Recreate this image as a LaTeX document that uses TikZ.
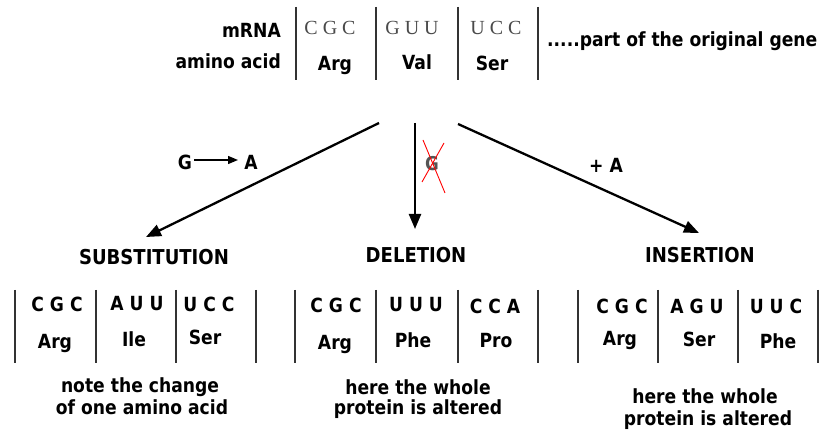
\documentclass[tikz,border=0pt]{standalone}
\usepackage{fontspec}
\setmainfont{DejaVu Sans}[FakeStretch=0.88]
\newfontfamily\serifcodon{Liberation Serif}
\usetikzlibrary{arrows.meta}
\definecolor{codongray}{HTML}{4a4a4a}
\definecolor{delgray}{HTML}{555555}
\tikzset{
  lbl/.style={font=\fontsize{19.5}{22}\selectfont\bfseries, inner sep=0pt, anchor=base, text=black},
  rlbl/.style={lbl, anchor=base east},
  head/.style={font=\fontsize{20.5}{24}\selectfont\bfseries, inner sep=0pt, anchor=base},
  topcodon/.style={font=\fontsize{20}{22}\selectfont\serifcodon, inner sep=0pt, anchor=base, text=codongray},
  bar/.style={line width=1.5pt, draw=black!80},
  bigarrow/.style={line width=2.3pt, -{Triangle[length=15pt,width=12pt]}},
}
\newcommand{\cs}{\hspace{5pt}}
\begin{document}
\begin{tikzpicture}[x=1pt,y=-1pt]
\useasboundingbox[fill=white] (0,0) rectangle (822,435);

% ---- top table ----
\node[rlbl] (mrna) at (281,38) {mRNA};
\node[rlbl] (aa) at (281,69) {amino acid};
\foreach \x in {296,376,458,538} \draw[bar] (\x,7) -- (\x,80);
\node[topcodon] (t1) at (330,35) {C\cs G\cs C};
\node[topcodon] (t2) at (412,35) {G\cs U\cs U};
\node[topcodon] (t3) at (496,35) {U\cs C\cs C};
\node[lbl] (ta1) at (335,71) {Arg};
\node[lbl] (ta2) at (417,70) {Val};
\node[lbl] (ta3) at (492,71) {Ser};
\node[lbl, anchor=base west] (orig) at (547,47) {.....part of the original gene};

% ---- arrows ----
\coordinate (s1) at (379,123);
\coordinate (e1) at (146,237);
\coordinate (s2) at (415,123);
\coordinate (e2) at (415,229);
\coordinate (s3) at (458,124);
\coordinate (e3) at (699,233);
\draw[bigarrow] (s1) -- (e1);
\draw[bigarrow] (s2) -- (e2);
\draw[bigarrow] (s3) -- (e3);

% labels on arrows
\node[lbl] (gfrom) at (185,170) {G};
\node[lbl] (gto) at (251,170) {A};
\coordinate (ga1) at (194,160);
\coordinate (ga2) at (238,160);
\draw[line width=1.3pt, -{Triangle[length=10pt,width=8pt]}] (ga1) -- (ga2);
\node[lbl] (plusA) at (606,173) {+ A};
\node[font=\fontsize{19}{20}\selectfont\bfseries, text=delgray, inner sep=0pt] (delg) at (432,164) {G};
\coordinate (x1a) at (423,140);
\coordinate (x1b) at (445,193);
\coordinate (x2a) at (444,143);
\coordinate (x2b) at (422,182);
\draw[red, line width=0.9pt] (x1a) -- (x1b);
\draw[red, line width=0.9pt] (x2a) -- (x2b);

% ---- headings ----
\node[head] (sub) at (154,265) {SUBSTITUTION};
\node[head] (del) at (416,263) {DELETION};
\node[head] (ins) at (700,263) {INSERTION};

% ---- substitution table ----
\foreach \x in {15,96,176,256} \draw[bar] (\x,290) -- (\x,363);
\node[lbl] (sc1) at (57,312) {C G C};
\node[lbl] (sc2) at (137,311) {A U U};
\node[lbl] (sc3) at (209,312) {U C C};
\node[lbl] (sa1) at (55,349) {Arg};
\node[lbl] (sa2) at (134,347) {Ile};
\node[lbl] (sa3) at (205,345) {Ser};
\node[lbl] (sn1) at (140,393) {note the change};
\node[lbl] (sn2) at (142,415) {of one amino acid};

% ---- deletion table ----
\foreach \x in {295,376,458,538} \draw[bar] (\x,290) -- (\x,363);
\node[lbl] (dc1) at (336,313) {C G C};
\node[lbl] (dc2) at (416,312) {U U U};
\node[lbl] (dc3) at (495,314) {C C A};
\node[lbl] (da1) at (335,350) {Arg};
\node[lbl] (da2) at (413,348) {Phe};
\node[lbl] (da3) at (496,348) {Pro};
\node[lbl] (dn1) at (418,395) {here the whole};
\node[lbl] (dn2) at (418,415) {protein is altered};

% ---- insertion table ----
\foreach \x in {578,658,738,818} \draw[bar] (\x,290) -- (\x,363);
\node[lbl] (ic1) at (622,314) {C G C};
\node[lbl] (ic2) at (697,314) {A G U};
\node[lbl] (ic3) at (776,314) {U U C};
\node[lbl] (ia1) at (620,346) {Arg};
\node[lbl] (ia2) at (699,347) {Ser};
\node[lbl] (ia3) at (778,349) {Phe};
\node[lbl] (in1) at (705,404) {here the whole};
\node[lbl] (in2) at (708,425) {protein is altered};
\end{tikzpicture}
\end{document}
